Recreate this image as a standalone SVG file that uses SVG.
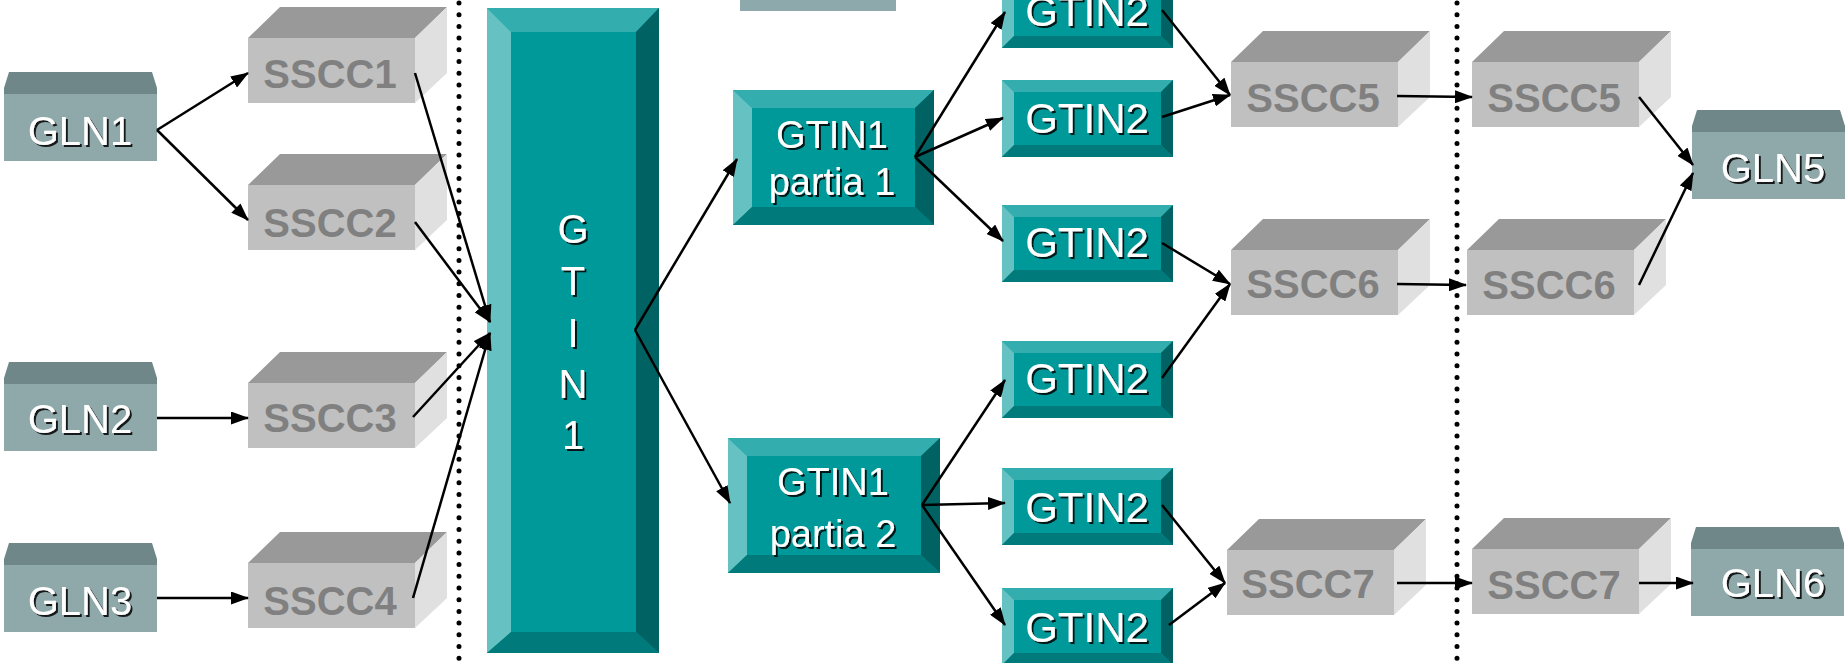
<svg xmlns="http://www.w3.org/2000/svg" xmlns:xlink="http://www.w3.org/1999/xlink" width="1845" height="663" viewBox="0 0 1845 663">
<style>
.wt{font-family:"Liberation Sans",Arial,sans-serif;fill:#fff;text-anchor:middle;filter:url(#sh)}
.gln{font-size:40px}
.gt2{font-size:42px}
.gtp{font-size:38px}
.big{font-size:40px}
.ss{font-family:"Liberation Sans",Arial,sans-serif;font-weight:bold;font-size:40px;fill:#808080;text-anchor:middle}
.in{fill:#009999}.tp{fill:#33adad}.lf{fill:#66c2c2}.rt{fill:#006262}.bt{fill:#007a7a}
.conn line{stroke:#000;stroke-width:2.5;marker-end:url(#ah)}
.dots{stroke:#000;stroke-width:5;stroke-linecap:round;stroke-dasharray:0 11.7}
</style>
<defs>
<filter id="sh" x="-10%" y="-10%" width="130%" height="140%">
<feDropShadow dx="2" dy="2" stdDeviation="0.6" flood-color="#000" flood-opacity="0.85"/>
</filter>
<marker id="ah" viewBox="0 0 18 13" refX="17" refY="6.5" markerWidth="18" markerHeight="13" markerUnits="userSpaceOnUse" orient="auto">
<path d="M0,0 L18,6.5 L0,13 z" fill="#000"/>
</marker>
<g id="ssccBox">
<polygon points="0,31 32,0 199,0 167,31" fill="#999999"/>
<polygon points="167,31 199,0 199,66 167,96" fill="#e0e0e0"/>
<rect x="0" y="31" width="167" height="65" fill="#c0c0c0"/>
</g>
<g id="glnBox">
<polygon points="5,0 148,0 153,16 153,22 0,22 0,16" fill="#6f8788"/>
<rect x="0" y="22" width="153" height="67" fill="#8fa9ab"/>
</g>
<g id="gt2Box">
<rect x="0" y="0" width="171" height="77" class="in"/>
<polygon points="0,0 171,0 159,12 12,12" class="tp"/>
<polygon points="0,0 12,12 12,65 0,77" class="lf"/>
<polygon points="171,0 171,77 159,65 159,12" class="rt"/>
<polygon points="0,77 12,65 159,65 171,77" class="bt"/>
</g>
</defs>
<rect width="1845" height="663" fill="#fff"/>

<line class="dots" x1="459" y1="3" x2="459" y2="663"/>
<line class="dots" x1="1457" y1="3" x2="1457" y2="663"/>

<rect x="740" y="-5" width="156" height="16" fill="#8ea9ab"/>

<g id="GLN1"><use xlink:href="#glnBox" x="4" y="72"/><text class="wt gln" x="80" y="145">GLN1</text></g>
<g id="GLN2"><use xlink:href="#glnBox" x="4" y="362"/><text class="wt gln" x="80" y="433">GLN2</text></g>
<g id="GLN3"><use xlink:href="#glnBox" x="4" y="543"/><text class="wt gln" x="80" y="615">GLN3</text></g>
<g id="GLN5"><use xlink:href="#glnBox" x="1692" y="110"/><text class="wt gln" x="1773" y="182">GLN5</text></g>
<g id="GLN6"><use xlink:href="#glnBox" x="1691" y="527"/><text class="wt gln" x="1773" y="597">GLN6</text></g>

<g id="SSCC1"><use xlink:href="#ssccBox" x="248" y="7"/><text class="ss" x="330" y="88">SSCC1</text></g>
<g id="SSCC2"><use xlink:href="#ssccBox" x="248" y="154"/><text class="ss" x="330" y="237">SSCC2</text></g>
<g id="SSCC3"><use xlink:href="#ssccBox" x="248" y="352"/><text class="ss" x="330" y="432">SSCC3</text></g>
<g id="SSCC4"><use xlink:href="#ssccBox" x="248" y="532"/><text class="ss" x="330" y="615">SSCC4</text></g>
<g id="SSCC5a"><use xlink:href="#ssccBox" x="1231" y="31"/><text class="ss" x="1313" y="112">SSCC5</text></g>
<g id="SSCC6a"><use xlink:href="#ssccBox" x="1231" y="219"/><text class="ss" x="1313" y="298">SSCC6</text></g>
<g id="SSCC7a"><use xlink:href="#ssccBox" x="1227" y="519"/><text class="ss" x="1308" y="598">SSCC7</text></g>
<g id="SSCC5b"><use xlink:href="#ssccBox" x="1472" y="31"/><text class="ss" x="1554" y="112">SSCC5</text></g>
<g id="SSCC6b"><use xlink:href="#ssccBox" x="1467" y="219"/><text class="ss" x="1549" y="299">SSCC6</text></g>
<g id="SSCC7b"><use xlink:href="#ssccBox" x="1472" y="518"/><text class="ss" x="1554" y="599">SSCC7</text></g>

<g id="GTIN1">
<rect x="487" y="8" width="172" height="645" class="in"/>
<polygon points="487,8 659,8 636,32 511,32" class="tp"/>
<polygon points="487,8 511,32 511,632 487,653" class="lf"/>
<polygon points="659,8 659,653 636,632 636,32" class="rt"/>
<polygon points="487,653 511,632 636,632 659,653" class="bt"/>
<text class="wt big" x="573" y="243">G</text>
<text class="wt big" x="573" y="295">T</text>
<text class="wt big" x="573" y="347">I</text>
<text class="wt big" x="573" y="398">N</text>
<text class="wt big" x="573" y="449">1</text>
</g>

<g id="GTIN1p1">
<rect x="733" y="90" width="201" height="135" class="in"/>
<polygon points="733,90 934,90 915,108 752,108" class="tp"/>
<polygon points="733,90 752,108 752,207 733,225" class="lf"/>
<polygon points="934,90 934,225 915,207 915,108" class="rt"/>
<polygon points="733,225 752,207 915,207 934,225" class="bt"/>
<text class="wt gtp" x="832" y="148">GTIN1</text>
<text class="wt gtp" x="832" y="195">partia 1</text>
</g>

<g id="GTIN1p2">
<rect x="728" y="438" width="212" height="135" class="in"/>
<polygon points="728,438 940,438 921,456 747,456" class="tp"/>
<polygon points="728,438 747,456 747,555 728,573" class="lf"/>
<polygon points="940,438 940,573 921,555 921,456" class="rt"/>
<polygon points="728,573 747,555 921,555 940,573" class="bt"/>
<text class="wt gtp" x="833" y="495">GTIN1</text>
<text class="wt gtp" x="833" y="547">partia 2</text>
</g>

<g id="GTIN2a"><use xlink:href="#gt2Box" x="1002" y="-29"/><text class="wt gt2" x="1087" y="26">GTIN2</text></g>
<g id="GTIN2b"><use xlink:href="#gt2Box" x="1002" y="80"/><text class="wt gt2" x="1087" y="133">GTIN2</text></g>
<g id="GTIN2c"><use xlink:href="#gt2Box" x="1002" y="205"/><text class="wt gt2" x="1087" y="257">GTIN2</text></g>
<g id="GTIN2d"><use xlink:href="#gt2Box" x="1002" y="341"/><text class="wt gt2" x="1087" y="393">GTIN2</text></g>
<g id="GTIN2e"><use xlink:href="#gt2Box" x="1002" y="468"/><text class="wt gt2" x="1087" y="522">GTIN2</text></g>
<g id="GTIN2f"><use xlink:href="#gt2Box" x="1002" y="588"/><text class="wt gt2" x="1087" y="642">GTIN2</text></g>

<g id="connectors" class="conn">
<line x1="157" y1="130" x2="248" y2="73"/>
<line x1="157" y1="130" x2="248" y2="220"/>
<line x1="157" y1="418" x2="248" y2="418"/>
<line x1="157" y1="598" x2="248" y2="598"/>
<line x1="415" y1="73" x2="490" y2="322"/>
<line x1="415" y1="222" x2="490" y2="322"/>
<line x1="413" y1="417" x2="490" y2="333"/>
<line x1="413" y1="598" x2="490" y2="333"/>
<line x1="635" y1="330" x2="737" y2="159"/>
<line x1="635" y1="330" x2="730" y2="503"/>
<line x1="915" y1="157" x2="1005" y2="12"/>
<line x1="915" y1="157" x2="1003" y2="118"/>
<line x1="915" y1="157" x2="1003" y2="241"/>
<line x1="922" y1="505" x2="1005" y2="380"/>
<line x1="922" y1="505" x2="1005" y2="503"/>
<line x1="922" y1="505" x2="1005" y2="625"/>
<line x1="1162" y1="10" x2="1230" y2="95"/>
<line x1="1162" y1="117" x2="1230" y2="95"/>
<line x1="1162" y1="243" x2="1230" y2="284"/>
<line x1="1162" y1="378" x2="1230" y2="284"/>
<line x1="1162" y1="505" x2="1225" y2="583"/>
<line x1="1169" y1="625" x2="1225" y2="583"/>
<line x1="1397" y1="96" x2="1472" y2="97"/>
<line x1="1397" y1="284" x2="1466" y2="285"/>
<line x1="1397" y1="583" x2="1472" y2="583"/>
<line x1="1639" y1="97" x2="1693" y2="165"/>
<line x1="1639" y1="285" x2="1693" y2="173"/>
<line x1="1639" y1="583" x2="1693" y2="583"/>
</g>
</svg>
